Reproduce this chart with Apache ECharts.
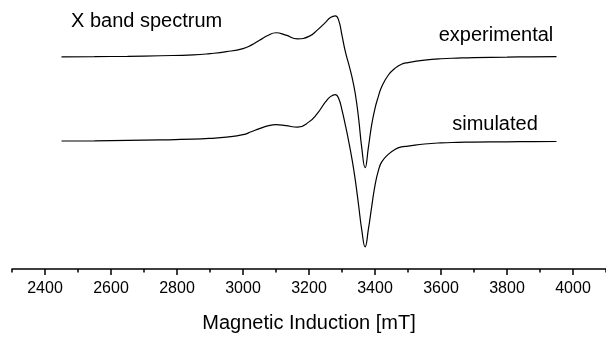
<!DOCTYPE html>
<html>
<head>
<meta charset="utf-8">
<script src="https://cdn.jsdelivr.net/npm/echarts@6/dist/echarts.min.js"></script>
<style>html,body{margin:0;padding:0;background:#fff}#c{width:606px;height:338px}</style>
</head>
<body>
<div id="c"></div>
<script>
// Magnetic field values (mT)
var field = [2450, 2550, 2650, 2750, 2850, 2900, 2950, 3000, 3025, 3050, 3075, 3100, 3130, 3165, 3200, 3225, 3250, 3265, 3280, 3290, 3300, 3310, 3320, 3330, 3340, 3350, 3360, 3370, 3380, 3390, 3400, 3410, 3420, 3440, 3460, 3480, 3500, 3550, 3600, 3650, 3700, 3800, 3875, 3950];
// Signal (arbitrary units, offset traces)
var experimental = [218.5, 218.7, 219, 219.6, 220.5, 221.8, 223.8, 227, 230.5, 235.5, 240.5, 243.3, 240.8, 237, 239.5, 246, 254, 259, 260.7, 256, 240.5, 224, 211.4, 198, 181, 156, 124.5, 104.3, 125.3, 148.7, 165.5, 177.5, 187.5, 199.5, 206.5, 210.8, 212.5, 215, 216.5, 217.2, 217.7, 218.2, 218.5, 218.7];
var simulated = [131.8, 132, 132.4, 132.9, 133.7, 134.5, 135.8, 138.3, 141.3, 144.5, 147.3, 148.7, 147.6, 146, 151.5, 160, 172, 177.5, 179.6, 175.5, 163.6, 148.5, 132, 113.7, 92.3, 66.4, 40, 22.7, 41, 64.2, 86.2, 101, 110, 118, 123, 125.7, 126.5, 128.7, 129.9, 130.4, 130.7, 131, 131.2, 131.3];
var majorTicks = [2400, 2600, 2800, 3000, 3200, 3400, 3600, 3800, 4000];
var minorTicks = [2300, 2500, 2700, 2900, 3100, 3300, 3500, 3700, 3900, 4100];
var xName = 'Magnetic Induction [mT]';
var titleText = 'X band spectrum';
var seriesNames = ['experimental', 'simulated'];

function pairs(xs, ys) { return xs.map(function (x, i) { return [x, ys[i]]; }); }

var chart = echarts.init(document.getElementById('c'), null, { renderer: 'canvas' });
var font = 'Liberation Sans, Arial, sans-serif';
chart.setOption({
  animation: false,
  backgroundColor: '#fff',
  grid: { left: 12, right: 0, top: 0, bottom: 61 },
  xAxis: [{
    type: 'value', min: 2300, max: 4100,
    name: xName, nameLocation: 'middle', nameGap: 44,
    nameTextStyle: { fontFamily: font, fontSize: 20, color: '#000' },
    axisLine: { show: true, lineStyle: { color: '#000', width: 1.5 } },
    axisTick: { show: true, length: 6, customValues: majorTicks, lineStyle: { color: '#000', width: 1.5 } },
    axisLabel: { show: true, customValues: majorTicks, margin: 12, fontFamily: font, fontSize: 16, color: '#000',
      formatter: function (v) { return String(v); } },
    splitLine: { show: false }
  }, {
    type: 'value', min: 2300, max: 4100, position: 'bottom',
    axisLine: { show: false },
    axisTick: { show: true, length: 3.5, customValues: minorTicks, lineStyle: { color: '#000', width: 1.5 } },
    axisLabel: { show: false },
    splitLine: { show: false }
  }],
  yAxis: { type: 'value', min: 0, max: 277, show: false },
  series: [{
    name: seriesNames[0], type: 'line', data: pairs(field, experimental),
    showSymbol: false, smooth: 0.5,
    lineStyle: { color: '#000', width: 1.2 }
  }, {
    name: seriesNames[1], type: 'line', data: pairs(field, simulated),
    showSymbol: false, smooth: 0.5,
    lineStyle: { color: '#000', width: 1.2 }
  }],
  graphic: [
    { type: 'text', left: 71, top: 11, style: { text: titleText, font: '20px ' + font, fill: '#000' } },
    { type: 'text', x: 496, y: 35, style: { text: seriesNames[0], font: '20px ' + font, fill: '#000', align: 'center', verticalAlign: 'middle' } },
    { type: 'text', x: 495, y: 124, style: { text: seriesNames[1], font: '20px ' + font, fill: '#000', align: 'center', verticalAlign: 'middle' } }
  ]
});
</script>
</body>
</html>
